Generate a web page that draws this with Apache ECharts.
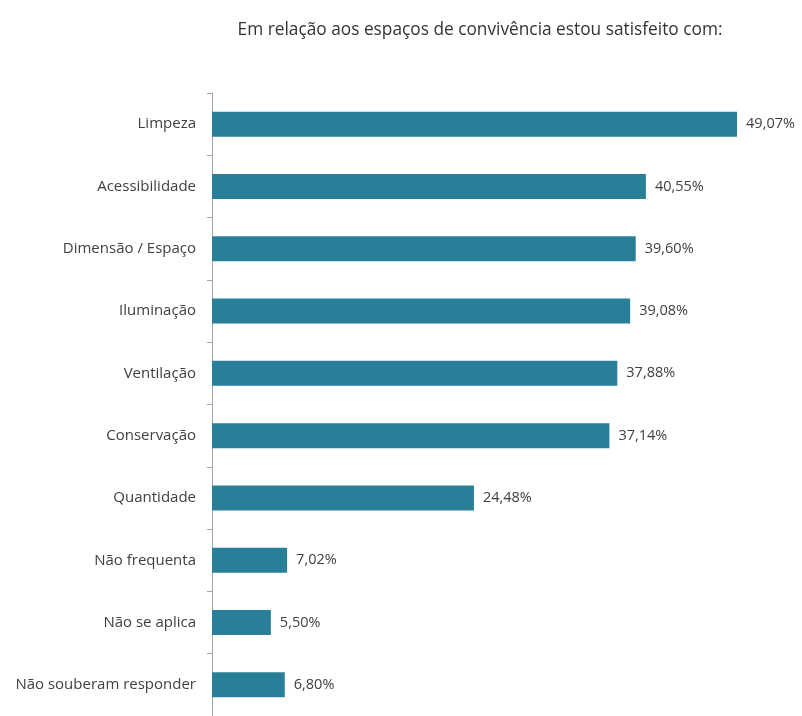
<!DOCTYPE html>
<html>
<head>
<meta charset="utf-8">
<script src="https://cdn.jsdelivr.net/npm/echarts@6/dist/echarts.min.js"></script>
<style>
  html, body { margin: 0; padding: 0; background: #ffffff; }
  #chart { width: 802px; height: 716px; }
</style>
</head>
<body>
<div id="chart"></div>
<script>
// Survey answers: satisfaction with common areas (percent of respondents)
const categories = [
  'Limpeza',
  'Acessibilidade',
  'Dimensão / Espaço',
  'Iluminação',
  'Ventilação',
  'Conservação',
  'Quantidade',
  'Não frequenta',
  'Não se aplica',
  'Não souberam responder'
];
const values = [49.07, 40.55, 39.60, 39.08, 37.88, 37.14, 24.48, 7.02, 5.50, 6.80];
const titleText = 'Em relação aos espaços de convivência estou satisfeito com:';

const chart = echarts.init(document.getElementById('chart'), null, { renderer: 'canvas' });

const fontFamily = 'Open Sans, Lato, sans-serif';

chart.setOption({
  backgroundColor: '#ffffff',
  animation: false,
  title: {
    text: titleText,
    left: 475,
    top: 17,
    textAlign: 'center',
    textStyle: {
      fontFamily: fontFamily,
      fontSize: 17.3,
      fontWeight: 'normal',
      color: '#333333'
    }
  },
  grid: {
    left: 212,
    right: 55,
    top: 93,
    bottom: -1,
    containLabel: false
  },
  xAxis: {
    type: 'value',
    min: 0,
    max: 50,
    show: false
  },
  yAxis: {
    type: 'category',
    data: categories,
    inverse: true,
    axisLine: { show: true, lineStyle: { color: '#a6a6a6', width: 1 } },
    axisTick: { show: true, length: 5, lineStyle: { color: '#a6a6a6' } },
    axisLabel: {
      margin: 16,
      fontFamily: fontFamily,
      fontSize: 15,
      color: '#404040'
    },
    splitLine: { show: false }
  },
  series: [{
    type: 'bar',
    data: values,
    barWidth: 25,
    itemStyle: { color: '#2a7f98' },
    label: {
      show: true,
      position: 'right',
      distance: 9,
      fontFamily: fontFamily,
      fontSize: 14.5,
      color: '#404040',
      formatter: p => p.value.toFixed(2).replace('.', ',') + '%'
    }
  }]
});
</script>
</body>
</html>
